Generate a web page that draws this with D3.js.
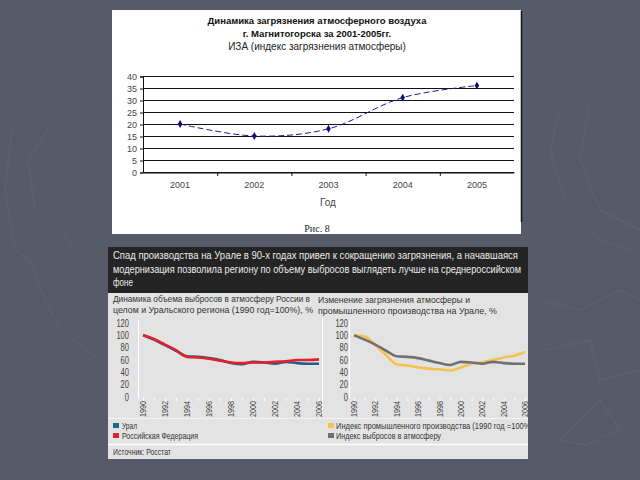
<!DOCTYPE html>
<html><head><meta charset="utf-8">
<script src="https://cdn.jsdelivr.net/npm/d3@7"></script>
<style>
html,body{margin:0;padding:0;background:#575a69;}
svg{display:block;}
</style></head>
<body>
<svg id="c" width="640" height="480"></svg>
<script>
// ---------- DATA ----------
const topTitle1 = "Динамика загрязнения атмосферного воздуха";
const topTitle2 = "г. Магнитогорска за 2001-2005гг.";
const topTitle3 = "ИЗА (индекс загрязнения атмосферы)";
const topYears = ["2001","2002","2003","2004","2005"];
const izaValues = [20, 15, 18, 31, 36];
const topYTicks = [0,5,10,15,20,25,30,35,40];

const headerLines = [
  "Спад производства на Урале в 90-х годах привел к сокращению загрязнения, а начавшаяся",
  "модернизация позволила региону по объему выбросов выглядеть лучше на среднероссийском",
  "фоне"
];
const leftSubtitle = ["Динамика объема выбросов в атмосферу России в", "целом и Уральского региона (1990 год=100%), %"];
const rightSubtitle = ["Изменение загрязнения атмосферы и", "промышленного производства на Урале, %"];
const years = [1990,1991,1992,1993,1994,1995,1996,1997,1998,1999,2000,2001,2002,2003,2004,2005,2006];
const yearTicks = [1990,1992,1994,1996,1998,2000,2002,2004,2006];
const pctTicks = [0,20,40,60,80,100,120];
const uralEmissions   = [100, 93, 84, 75, 66, 65, 63, 60, 55, 53, 57, 56, 54, 57, 55, 54, 54];
const russiaEmissions = [100, 94, 85, 76, 65, 64, 62, 59, 56, 55, 56, 56, 57, 58, 60, 60, 61];
const emissionsIndex  = [100, 93, 85, 75, 66, 65, 63, 59, 55, 52, 57, 56, 54, 57, 55, 54, 54];
const productionIndex = [100, 98, 84, 68, 53, 51, 48, 46, 45, 43, 48, 54, 56, 60, 64, 67, 73];
const legendLeft = ["Урал", "Российская Федерация"];
const legendRight = ["Индекс промышленного производства (1990 год =100%)", "Индекс выбросов в атмосферу"];
const sourceText = "Источник: Росстат";

// ---------- DRAW ----------
const svg = d3.select("#c");
svg.append("rect").attr("width",640).attr("height",480).attr("fill","#575a69");

const deco = svg.append("g").attr("fill","none").attr("stroke","#646878").attr("stroke-width",1).attr("opacity",0.7);
deco.append("path").attr("d","M12,130 L5,190 L15,250 L30,260 L45,300 L60,330 L80,345 L100,360");
deco.append("path").attr("d","M50,125 L28,160 L35,210 L60,230 L75,250");
deco.append("path").attr("d","M560,110 L550,150 L565,200 L600,240 L630,250");
deco.append("path").attr("d","M590,100 L580,160 L600,210 L640,230");
deco.append("path").attr("d","M540,300 L580,310 L620,290 L640,300");
deco.append("path").attr("d","M545,350 L590,340 L600,380 L640,370");
deco.append("path").attr("d","M560,440 L600,400 L620,430 L585,445 Z");
deco.append("circle").attr("cx",60).attr("cy",360).attr("r",95).attr("stroke-dasharray","1,2").attr("opacity",0.5);

// ===== Top chart =====
const topG = svg.append("g");
topG.append("rect").attr("x",112).attr("y",10).attr("width",409).attr("height",224).attr("fill","#ffffff");
topG.append("line").attr("x1",521.5).attr("x2",521.5).attr("y1",11).attr("y2",222).attr("stroke","#111").attr("stroke-width",1.5);

const tf = "'Liberation Sans', Arial, sans-serif";
topG.append("text").attr("x",317).attr("y",24).attr("text-anchor","middle").attr("font-family",tf).attr("font-weight","bold").attr("font-size",9.5).attr("fill","#111").text(topTitle1);
topG.append("text").attr("x",317).attr("y",37).attr("text-anchor","middle").attr("font-family",tf).attr("font-weight","bold").attr("font-size",9.5).attr("fill","#111").text(topTitle2);
topG.append("text").attr("x",317).attr("y",50).attr("text-anchor","middle").attr("font-family",tf).attr("font-size",10).attr("fill","#222").text(topTitle3);

const tx = d3.scaleBand().domain(topYears).range([143,514]);
const ty = d3.scaleLinear().domain([0,40]).range([172,76]);

topG.append("g").selectAll("line").data(topYTicks).join("line")
  .attr("x1",143).attr("x2",514).attr("y1",d=>ty(d)+0.5).attr("y2",d=>ty(d)+0.5)
  .attr("stroke","#111").attr("stroke-width",1);
const yAxT = topG.append("g").attr("transform","translate(143,0.5)")
  .call(d3.axisLeft(ty).tickValues(topYTicks).tickSize(3).tickPadding(3));
yAxT.select(".domain").attr("stroke","#111");
yAxT.selectAll(".tick line").attr("stroke","#111");
yAxT.selectAll("text").attr("font-family",tf).attr("font-size",9).attr("fill","#444");
const xAxT = topG.append("g").attr("transform","translate(0,172.5)")
  .call(d3.axisBottom(tx).tickSize(0).tickPadding(9));
xAxT.select(".domain").attr("stroke","#111");
xAxT.selectAll("text").attr("font-family",tf).attr("font-size",9).attr("fill","#444");
topG.append("g").selectAll("line").data(topYears.slice(1)).join("line")
  .attr("x1",d=>tx(d)+0.5).attr("x2",d=>tx(d)+0.5).attr("y1",172).attr("y2",176).attr("stroke","#111");
topG.append("text").attr("x",328).attr("y",206).attr("text-anchor","middle").attr("font-family",tf).attr("font-size",10).attr("fill","#444").text("Год");
topG.append("text").attr("x",317).attr("y",232).attr("text-anchor","middle").attr("font-family","'Liberation Serif','Times New Roman',serif").attr("font-size",10).attr("fill","#222").text("Рис. 8");

const tline = d3.line().x((d,i)=>tx(topYears[i])+tx.bandwidth()/2).y(d=>ty(d)).curve(d3.curveCatmullRom.alpha(0.5));
topG.append("path").datum(izaValues).attr("d",tline).attr("fill","none").attr("stroke","#1c1c99").attr("stroke-width",1).attr("stroke-dasharray","6,3");
topG.append("g").selectAll("path").data(izaValues).join("path")
  .attr("transform",(d,i)=>`translate(${tx(topYears[i])+tx.bandwidth()/2},${ty(d)})`)
  .attr("d",d3.symbol(d3.symbolDiamond,18)).attr("fill","#10107a");

// ===== Bottom panel =====
const nf = "'Liberation Sans Narrow','Liberation Sans',Arial,sans-serif";
function fit(sel, w){ return sel.attr("textLength",w).attr("lengthAdjust","spacingAndGlyphs"); }
const bp = svg.append("g");
svg.append("defs").append("clipPath").attr("id","pclip").append("rect").attr("x",108).attr("y",247).attr("width",420).attr("height",212);
const pg = bp.append("g").attr("clip-path","url(#pclip)");
pg.append("rect").attr("x",108).attr("y",247).attr("width",420).attr("height",212).attr("fill","#e3e3e3");
pg.append("rect").attr("x",108).attr("y",247).attr("width",420).attr("height",46).attr("fill","#242424");
const headerW = [405, 408, 20];
headerLines.forEach((t,i)=>{
  fit(pg.append("text").attr("x",113).attr("y",259+i*13.5).attr("font-family",nf).attr("font-size",11.5).attr("fill","#ececec").text(t), headerW[i]);
});
const lsW = [197, 200];
leftSubtitle.forEach((t,i)=>{
  fit(pg.append("text").attr("x",113).attr("y",302+i*10.5).attr("font-family",nf).attr("font-size",9).attr("fill","#333").text(t), lsW[i]);
});
const rsW = [152, 179];
rightSubtitle.forEach((t,i)=>{
  fit(pg.append("text").attr("x",318).attr("y",302.5+i*11).attr("font-family",nf).attr("font-size",9).attr("fill","#333").text(t), rsW[i]);
});
pg.append("line").attr("x1",322.5).attr("x2",322.5).attr("y1",318).attr("y2",416).attr("stroke","#ffffff").attr("stroke-width",1);
pg.append("line").attr("x1",108).attr("x2",528).attr("y1",418.5).attr("y2",418.5).attr("stroke","#f4f4f4");
pg.append("line").attr("x1",108).attr("x2",528).attr("y1",444.5).attr("y2",444.5).attr("stroke","#ffffff").attr("stroke-width",1.5);

const yb = d3.scaleLinear().domain([0,120]).range([397,323]);
function drawChart(g, x0, x1, labelX, series){
  const xs = d3.scaleLinear().domain([1990,2006]).range([x0,x1]);
  g.append("g").selectAll("text").data(pctTicks).join("text")
    .attr("x",labelX).attr("y",d=>yb(d)+3.5).attr("text-anchor","end")
    .attr("font-family",nf).attr("font-size",10).attr("fill","#444")
    .attr("textLength",d=>String(d).length*4.2).attr("lengthAdjust","spacingAndGlyphs").text(d=>d);
  g.append("line").attr("x1",x0-4.5).attr("x2",x0-4.5).attr("y1",320).attr("y2",398).attr("stroke","#ffffff").attr("stroke-width",1.2);
  const ax = g.append("g").attr("transform","translate(0,398)")
    .call(d3.axisBottom(xs).tickValues(years).tickSize(3).tickFormat(""));
  ax.select(".domain").remove();
  ax.selectAll(".tick line").attr("stroke","#ffffff");
  g.append("g").selectAll("text").data(yearTicks).join("text")
    .attr("transform",d=>`translate(${xs(d)+3},401) rotate(-90)`)
    .attr("text-anchor","end").attr("font-family",nf).attr("font-size",9.5).attr("fill","#444")
    .attr("textLength",16).attr("lengthAdjust","spacingAndGlyphs").text(d=>d);
  const ln = d3.line().x((d,i)=>xs(years[i])).y(d=>yb(d)).curve(d3.curveMonotoneX);
  series.forEach(s=>{
    g.append("path").datum(s.v).attr("d",ln).attr("fill","none").attr("stroke",s.c).attr("stroke-width",2.6).attr("stroke-linejoin","round");
  });
}
drawChart(pg, 143, 319, 129, [{v:uralEmissions,c:"#235e8c"},{v:russiaEmissions,c:"#e3202c"}]);
drawChart(pg, 354, 525, 348, [{v:productionIndex,c:"#f6c24e"},{v:emissionsIndex,c:"#707070"}]);

const legL = [{t:legendLeft[0],c:"#1f6690",w:15},{t:legendLeft[1],c:"#e3202c",w:76}];
legL.forEach((d,i)=>{
  pg.append("rect").attr("x",113).attr("y",423+i*10).attr("width",6).attr("height",5).attr("fill",d.c);
  fit(pg.append("text").attr("x",122).attr("y",429+i*10).attr("font-family",nf).attr("font-size",9.5).attr("fill","#333").text(d.t), d.w);
});
const legR = [{t:legendRight[0],c:"#f6c24e",w:197},{t:legendRight[1],c:"#707070",w:105}];
legR.forEach((d,i)=>{
  pg.append("rect").attr("x",328).attr("y",423+i*10).attr("width",6).attr("height",5).attr("fill",d.c);
  fit(pg.append("text").attr("x",336).attr("y",429+i*10).attr("font-family",nf).attr("font-size",9.5).attr("fill","#333").text(d.t), d.w);
});
fit(pg.append("text").attr("x",113).attr("y",455).attr("font-family",nf).attr("font-size",9.5).attr("fill","#333").text(sourceText), 58);
</script>
</body></html>
